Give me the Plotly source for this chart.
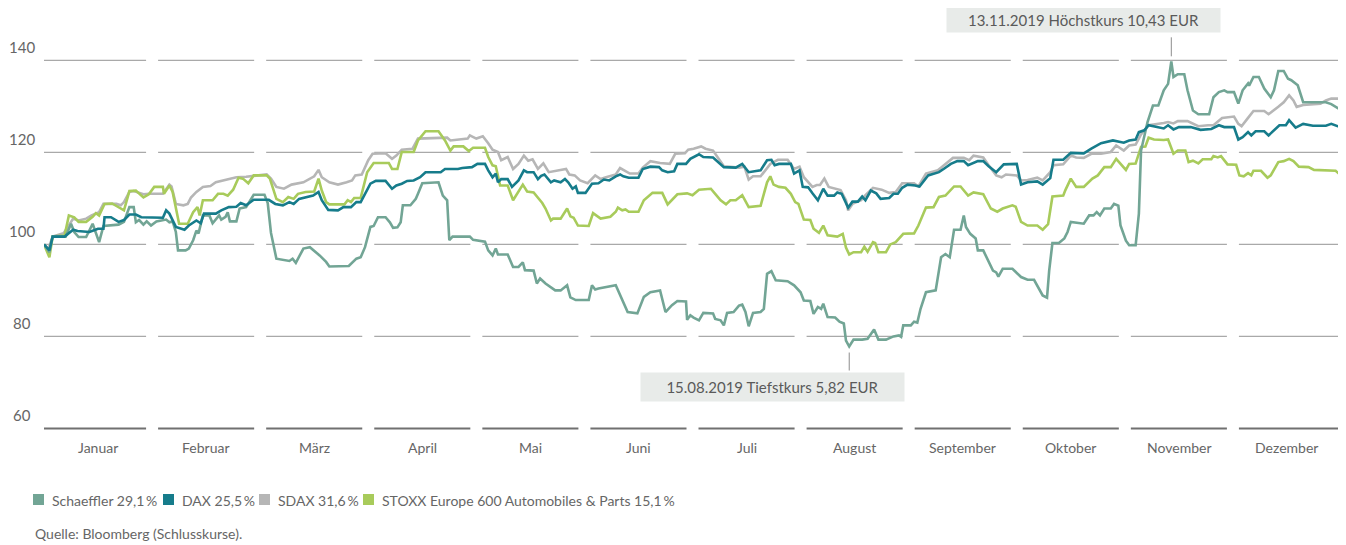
import plotly.graph_objects as go

# ---------------- data (index, 1 Jan 2019 = 100; time in months since 1 Jan) ----------------
months = ["Januar", "Februar", "März", "April", "Mai", "Juni", "Juli",
          "August", "September", "Oktober", "November", "Dezember"]
y_ticks = [60, 80, 100, 120, 140]

schaeffler_t = [0.00, 0.05, 0.08, 0.20, 0.25, 0.28, 0.32, 0.39, 0.45, 0.51, 0.55, 0.69, 0.74, 0.79, 0.83, 0.85, 0.88, 0.92, 0.95, 0.99,
                1.04, 1.13, 1.16, 1.19, 1.22, 1.24, 1.31, 1.34, 1.38, 1.41, 1.43, 1.47, 1.53, 1.56, 1.62, 1.64, 1.68, 1.70, 1.72, 1.78,
                1.81, 1.87, 1.94, 2.04, 2.07, 2.10, 2.15, 2.27, 2.30, 2.33, 2.40, 2.46, 2.55, 2.61, 2.64, 2.82, 2.89, 2.93, 2.97, 3.02,
                3.05, 3.09, 3.16, 3.20, 3.23, 3.27, 3.30, 3.32, 3.39, 3.44, 3.46, 3.50, 3.65, 3.69, 3.73, 3.75, 3.78, 3.94, 3.97, 4.08,
                4.11, 4.15, 4.18, 4.20, 4.29, 4.34, 4.39, 4.43, 4.45, 4.53, 4.56, 4.59, 4.64, 4.70, 4.73, 4.78, 4.84, 4.87, 4.92, 5.04,
                5.07, 5.10, 5.13, 5.29, 5.33, 5.40, 5.49, 5.55, 5.61, 5.70, 5.75, 5.81, 5.86, 5.94, 5.95, 5.98, 6.01, 6.06, 6.10, 6.19,
                6.21, 6.26, 6.29, 6.32, 6.38, 6.43, 6.46, 6.49, 6.52, 6.56, 6.63, 6.66, 6.69, 6.73, 6.77, 6.88, 6.94, 7.00, 7.03, 7.09,
                7.12, 7.16, 7.19, 7.21, 7.25, 7.32, 7.36, 7.40, 7.42, 7.45, 7.49, 7.57, 7.62, 7.68, 7.72, 7.79, 7.86, 7.91, 7.93, 7.95,
                8.02, 8.05, 8.08, 8.11, 8.16, 8.25, 8.30, 8.34, 8.38, 8.42, 8.48, 8.51, 8.53, 8.57, 8.62, 8.64, 8.69, 8.78, 8.81, 8.83,
                8.87, 8.96, 9.04, 9.10, 9.16, 9.20, 9.24, 9.28, 9.30, 9.33, 9.39, 9.44, 9.47, 9.50, 9.62, 9.67, 9.71, 9.74, 9.77, 9.81,
                9.87, 9.90, 9.94, 9.96, 10.01, 10.04, 10.10, 10.13, 10.15, 10.21, 10.26, 10.31, 10.36, 10.40, 10.43, 10.45, 10.49, 10.55, 10.58, 10.63,
                10.68, 10.78, 10.82, 10.87, 10.92, 10.95, 11.01, 11.05, 11.09, 11.14, 11.15, 11.19, 11.24, 11.29, 11.35, 11.38, 11.42, 11.47, 11.51, 11.54,
                11.60, 11.65, 11.86, 11.91, 11.97, 12.00]
schaeffler = [100.0, 98.3, 101.7, 101.7, 104.5, 102.7, 101.6, 101.6, 104.5, 100.5, 104.0, 104.3, 104.9, 108.1, 108.1, 104.8, 105.3, 104.3, 105.0, 104.1,
              105.0, 105.4, 104.8, 105.0, 102.7, 98.7, 98.7, 99.1, 100.9, 103.0, 102.4, 106.3, 106.3, 104.6, 106.3, 105.4, 106.0, 107.0, 105.0, 105.0,
              107.8, 108.1, 110.8, 110.8, 109.0, 102.5, 96.9, 96.4, 96.9, 96.0, 99.1, 99.4, 97.6, 96.2, 95.2, 95.3, 96.9, 97.2, 99.4, 103.8,
              104.0, 105.9, 105.9, 104.8, 103.6, 103.7, 104.8, 108.5, 108.5, 109.9, 111.0, 113.3, 113.5, 110.6, 109.6, 100.9, 101.7, 101.7, 101.0, 100.6,
              98.7, 97.6, 99.1, 97.8, 97.8, 95.1, 95.1, 96.1, 94.4, 94.3, 91.5, 92.6, 91.5, 90.4, 90.0, 90.0, 91.1, 88.5, 87.9, 87.9,
              91.1, 90.2, 90.4, 91.1, 88.9, 85.3, 85.0, 88.6, 89.6, 90.0, 85.3, 86.8, 87.7, 87.6, 83.6, 84.6, 84.1, 83.5, 85.1, 85.0,
              83.8, 83.5, 82.4, 85.1, 85.3, 86.7, 86.9, 85.3, 82.2, 85.1, 85.3, 86.0, 93.6, 94.2, 92.2, 92.0, 91.1, 89.6, 87.8, 87.7,
              84.9, 86.4, 86.0, 87.1, 84.2, 84.1, 83.2, 82.8, 79.1, 77.8, 79.3, 79.3, 79.5, 81.5, 79.3, 79.3, 80.0, 80.2, 79.9, 82.4,
              82.4, 83.2, 83.0, 86.0, 89.6, 90.0, 97.2, 97.9, 97.2, 103.2, 103.2, 106.3, 103.8, 102.3, 101.3, 98.7, 98.7, 94.3, 93.9, 93.0,
              94.7, 94.7, 92.9, 92.3, 92.3, 90.7, 88.9, 88.4, 94.3, 100.3, 100.3, 101.3, 102.7, 104.9, 104.5, 106.3, 106.3, 107.0, 106.3, 107.8,
              107.8, 108.8, 108.4, 104.1, 100.8, 99.8, 99.8, 106.7, 120.4, 126.6, 130.2, 130.2, 133.5, 134.9, 139.8, 136.4, 137.0, 137.0, 133.5, 129.1,
              128.3, 128.3, 132.0, 133.1, 133.5, 133.1, 133.1, 130.6, 133.5, 135.0, 134.5, 136.4, 136.4, 133.9, 132.0, 133.5, 137.7, 137.7, 136.0, 135.7,
              134.6, 130.9, 130.9, 130.5, 129.5, 129.2]

dax_t = [0.00, 0.05, 0.08, 0.19, 0.27, 0.31, 0.42, 0.50, 0.55, 0.56, 0.62, 0.69, 0.74, 0.79, 0.85, 0.90, 1.10, 1.13, 1.16, 1.22,
         1.30, 1.34, 1.41, 1.45, 1.48, 1.59, 1.64, 1.71, 1.78, 1.82, 1.87, 1.94, 2.08, 2.14, 2.21, 2.27, 2.31, 2.36, 2.49, 2.54,
         2.57, 2.63, 2.72, 2.77, 2.84, 2.89, 2.93, 2.98, 3.02, 3.07, 3.16, 3.22, 3.26, 3.31, 3.36, 3.42, 3.48, 3.53, 3.67, 3.71,
         3.83, 3.87, 3.96, 4.01, 4.08, 4.11, 4.15, 4.18, 4.20, 4.23, 4.29, 4.33, 4.39, 4.44, 4.47, 4.53, 4.57, 4.60, 4.63, 4.69,
         4.72, 4.78, 4.82, 4.85, 4.89, 4.92, 4.94, 5.01, 5.07, 5.13, 5.18, 5.23, 5.29, 5.33, 5.36, 5.41, 5.50, 5.54, 5.61, 5.69,
         5.72, 5.77, 5.83, 5.86, 5.94, 5.98, 6.06, 6.10, 6.19, 6.29, 6.40, 6.46, 6.52, 6.63, 6.69, 6.73, 6.76, 6.80, 6.91, 6.94,
         6.99, 7.02, 7.07, 7.11, 7.16, 7.21, 7.25, 7.31, 7.34, 7.38, 7.42, 7.44, 7.48, 7.53, 7.57, 7.60, 7.65, 7.70, 7.74, 7.82,
         7.86, 7.90, 7.94, 7.99, 8.06, 8.10, 8.18, 8.28, 8.33, 8.39, 8.45, 8.51, 8.55, 8.64, 8.69, 8.74, 8.81, 8.88, 9.00, 9.04,
         9.10, 9.19, 9.24, 9.31, 9.34, 9.43, 9.50, 9.62, 9.69, 9.78, 9.89, 9.99, 10.04, 10.10, 10.13, 10.18, 10.22, 10.36, 10.40, 10.45,
         10.50, 10.61, 10.70, 10.80, 10.87, 10.92, 11.01, 11.05, 11.09, 11.14, 11.17, 11.21, 11.29, 11.33, 11.43, 11.49, 11.52, 11.58, 11.65, 11.74,
         11.86, 11.91, 11.97, 12.00]
dax = [100.0, 98.7, 101.7, 101.7, 103.2, 102.9, 102.7, 103.4, 103.4, 105.9, 105.9, 104.9, 105.3, 106.5, 106.5, 105.9, 105.8, 107.4, 106.7, 103.8,
       103.2, 104.1, 105.2, 104.6, 106.7, 106.7, 107.4, 108.1, 108.2, 109.0, 108.5, 109.7, 109.7, 108.8, 108.5, 109.2, 108.8, 109.9, 110.6, 111.4,
       109.6, 107.5, 107.4, 108.1, 108.1, 109.2, 109.2, 111.4, 113.2, 113.8, 113.8, 112.1, 112.8, 113.2, 113.8, 113.9, 114.6, 115.7, 115.7, 116.4,
       116.4, 116.6, 116.8, 117.5, 117.5, 116.1, 114.6, 115.4, 113.5, 114.2, 114.2, 112.5, 113.9, 116.1, 115.7, 115.7, 114.2, 114.9, 115.2, 113.5,
       113.9, 113.5, 114.2, 113.5, 112.1, 112.6, 111.2, 111.2, 113.2, 113.3, 114.1, 113.9, 114.8, 115.2, 114.8, 114.5, 114.5, 116.4, 116.9, 116.8,
       116.1, 115.7, 115.9, 117.5, 117.5, 118.6, 119.6, 119.0, 118.9, 116.8, 116.7, 117.5, 115.7, 116.1, 118.3, 118.4, 117.2, 117.5, 117.5, 115.4,
       116.1, 112.5, 112.4, 111.1, 109.6, 112.1, 110.6, 110.6, 111.3, 111.0, 108.8, 108.0, 109.3, 109.3, 110.4, 109.6, 111.7, 111.1, 109.9, 110.1,
       111.0, 111.0, 112.3, 113.0, 112.8, 112.6, 115.0, 115.7, 116.5, 117.5, 118.1, 118.1, 117.2, 118.1, 118.1, 117.0, 115.7, 117.4, 117.5, 113.0,
       113.5, 113.7, 113.0, 114.4, 118.4, 118.4, 119.9, 119.8, 120.8, 122.0, 122.6, 122.1, 122.6, 122.8, 124.4, 124.8, 125.9, 125.2, 125.9, 125.0,
       125.5, 125.5, 124.9, 125.1, 125.9, 125.5, 125.5, 122.8, 123.3, 124.4, 123.7, 124.6, 124.6, 123.7, 125.9, 125.9, 127.0, 125.4, 126.2, 125.8,
       125.8, 126.2, 125.7, 125.7]

sdax_t = [0.00, 0.04, 0.08, 0.18, 0.22, 0.27, 0.32, 0.39, 0.44, 0.51, 0.55, 0.67, 0.71, 0.74, 0.79, 0.83, 0.92, 0.97, 1.10, 1.16,
          1.18, 1.22, 1.29, 1.33, 1.36, 1.41, 1.47, 1.54, 1.59, 1.65, 1.71, 1.78, 1.87, 1.94, 2.06, 2.10, 2.15, 2.22, 2.29, 2.40,
          2.50, 2.54, 2.57, 2.64, 2.72, 2.80, 2.85, 2.88, 2.94, 3.00, 3.04, 3.16, 3.22, 3.26, 3.31, 3.41, 3.46, 3.73, 3.76, 3.92,
          3.94, 4.00, 4.06, 4.11, 4.15, 4.20, 4.23, 4.29, 4.34, 4.39, 4.44, 4.48, 4.52, 4.57, 4.62, 4.67, 4.78, 4.83, 4.86, 4.91,
          4.96, 5.03, 5.10, 5.15, 5.20, 5.29, 5.33, 5.38, 5.42, 5.50, 5.54, 5.61, 5.70, 5.79, 5.84, 5.93, 5.96, 6.01, 6.08, 6.12,
          6.19, 6.29, 6.43, 6.48, 6.52, 6.56, 6.63, 6.72, 6.79, 6.88, 6.94, 6.99, 7.03, 7.11, 7.15, 7.18, 7.22, 7.26, 7.37, 7.42,
          7.44, 7.48, 7.56, 7.60, 7.67, 7.75, 7.82, 7.88, 7.94, 8.05, 8.09, 8.16, 8.27, 8.31, 8.41, 8.51, 8.56, 8.60, 8.69, 8.74,
          8.81, 8.86, 8.90, 9.00, 9.04, 9.10, 9.19, 9.24, 9.31, 9.34, 9.43, 9.50, 9.55, 9.62, 9.69, 9.78, 9.87, 9.92, 9.99, 10.04,
          10.10, 10.15, 10.22, 10.36, 10.40, 10.45, 10.49, 10.58, 10.63, 10.68, 10.77, 10.82, 10.90, 11.01, 11.05, 11.08, 11.14, 11.19, 11.29, 11.33,
          11.42, 11.47, 11.52, 11.56, 11.59, 11.65, 11.81, 11.86, 11.91, 12.00]
sdax = [100.0, 99.0, 101.7, 102.4, 103.8, 105.6, 105.2, 105.6, 106.3, 107.0, 108.8, 108.8, 108.5, 109.2, 111.4, 111.6, 110.9, 111.0, 111.0, 113.0,
        112.6, 108.8, 108.5, 108.8, 110.2, 111.4, 112.5, 112.7, 113.5, 113.8, 114.1, 114.6, 114.7, 114.9, 115.2, 114.3, 112.5, 112.1, 113.0, 113.5,
        114.8, 116.2, 114.6, 113.5, 113.0, 113.5, 113.9, 115.0, 115.2, 118.3, 119.7, 119.8, 118.6, 119.3, 120.6, 120.8, 123.0, 123.2, 122.6, 123.0,
        123.7, 123.0, 123.5, 122.0, 120.6, 120.1, 118.3, 119.0, 116.4, 117.5, 119.3, 118.2, 118.5, 116.4, 117.6, 115.7, 116.1, 116.4, 115.2, 115.0,
        113.9, 113.3, 115.0, 114.2, 114.6, 115.2, 116.6, 116.0, 115.4, 115.4, 116.7, 118.1, 117.7, 117.5, 119.7, 119.8, 120.6, 120.8, 121.3, 120.8,
        120.4, 117.0, 116.7, 116.9, 114.1, 114.8, 114.8, 117.5, 118.4, 118.4, 116.4, 116.9, 114.6, 112.5, 112.9, 112.9, 114.3, 112.5, 111.8, 109.6,
        107.4, 108.8, 109.6, 110.7, 112.3, 111.9, 111.2, 111.4, 113.3, 113.3, 112.6, 115.4, 116.1, 116.9, 118.8, 118.8, 118.3, 119.3, 118.9, 117.2,
        115.0, 114.6, 115.2, 115.0, 113.9, 114.0, 114.5, 113.9, 115.7, 117.2, 117.4, 119.3, 118.9, 118.8, 119.7, 119.7, 120.1, 121.5, 120.4, 121.5,
        121.7, 123.9, 125.9, 126.4, 126.6, 126.3, 126.8, 126.8, 126.3, 125.7, 125.9, 125.9, 127.5, 127.8, 126.2, 125.7, 127.5, 129.0, 129.0, 128.3,
        129.9, 130.9, 132.4, 131.3, 129.9, 130.3, 130.6, 131.3, 131.7, 131.7]

stoxx_t = [0.00, 0.05, 0.08, 0.19, 0.23, 0.28, 0.32, 0.39, 0.45, 0.48, 0.51, 0.56, 0.63, 0.69, 0.74, 0.79, 0.85, 0.92, 0.97, 1.02,
           1.10, 1.11, 1.16, 1.19, 1.24, 1.25, 1.33, 1.38, 1.42, 1.44, 1.47, 1.56, 1.61, 1.66, 1.70, 1.75, 1.80, 1.84, 1.89, 1.94,
           2.06, 2.09, 2.15, 2.21, 2.26, 2.31, 2.35, 2.42, 2.50, 2.54, 2.57, 2.61, 2.64, 2.78, 2.81, 2.84, 2.87, 2.93, 2.99, 3.05,
           3.19, 3.22, 3.27, 3.31, 3.42, 3.46, 3.53, 3.65, 3.71, 3.76, 3.79, 3.88, 3.93, 3.97, 4.08, 4.11, 4.15, 4.18, 4.22, 4.29,
           4.34, 4.43, 4.47, 4.53, 4.61, 4.64, 4.69, 4.71, 4.78, 4.84, 4.87, 4.90, 4.94, 5.04, 5.08, 5.15, 5.24, 5.29, 5.31, 5.35,
           5.38, 5.41, 5.50, 5.55, 5.63, 5.72, 5.77, 5.81, 5.86, 5.95, 6.00, 6.06, 6.17, 6.21, 6.26, 6.31, 6.35, 6.40, 6.46, 6.52,
           6.63, 6.69, 6.72, 6.75, 6.80, 6.86, 6.91, 6.95, 6.98, 7.03, 7.09, 7.12, 7.17, 7.21, 7.25, 7.34, 7.39, 7.42, 7.45, 7.49,
           7.56, 7.59, 7.62, 7.67, 7.69, 7.72, 7.79, 7.83, 7.88, 7.95, 8.05, 8.09, 8.16, 8.23, 8.28, 8.34, 8.42, 8.48, 8.55, 8.60,
           8.69, 8.76, 8.82, 8.87, 8.96, 8.99, 9.04, 9.10, 9.19, 9.24, 9.29, 9.33, 9.43, 9.45, 9.50, 9.55, 9.62, 9.70, 9.75, 9.81,
           9.87, 9.92, 9.96, 10.01, 10.04, 10.10, 10.15, 10.19, 10.22, 10.27, 10.36, 10.40, 10.45, 10.49, 10.56, 10.59, 10.63, 10.68, 10.72, 10.80,
           10.82, 10.86, 10.89, 10.95, 11.03, 11.06, 11.10, 11.14, 11.17, 11.19, 11.26, 11.32, 11.35, 11.42, 11.47, 11.52, 11.56, 11.61, 11.70, 11.75,
           11.95, 12.00]
stoxx = [100.0, 97.2, 101.7, 101.9, 106.3, 105.9, 104.9, 104.9, 106.0, 106.8, 106.3, 108.8, 108.9, 108.0, 107.4, 111.6, 111.7, 110.2, 110.9, 112.5,
         112.5, 111.0, 112.8, 111.4, 104.9, 104.5, 104.5, 107.0, 108.1, 106.3, 109.6, 109.6, 111.0, 111.0, 110.6, 111.9, 114.5, 114.3, 113.3, 115.0,
         115.0, 114.3, 109.9, 109.2, 110.3, 109.9, 111.0, 111.4, 111.5, 114.3, 111.7, 109.2, 108.7, 108.7, 109.6, 109.2, 110.1, 110.1, 115.7, 117.7,
         117.7, 116.4, 116.4, 120.1, 120.1, 122.6, 124.6, 124.6, 122.6, 120.4, 121.3, 121.3, 120.3, 121.0, 121.0, 119.0, 117.2, 117.0, 112.8, 112.8,
         109.6, 113.0, 111.5, 111.3, 109.0, 107.8, 105.2, 105.6, 105.6, 107.8, 106.1, 105.8, 104.1, 104.0, 106.8, 105.6, 106.0, 107.1, 108.0, 107.4,
         107.6, 107.1, 107.1, 109.6, 111.2, 111.2, 108.7, 109.7, 110.9, 111.1, 110.7, 111.9, 112.1, 111.0, 109.6, 108.7, 109.6, 109.6, 110.7, 108.1,
         108.4, 113.5, 114.8, 113.0, 112.5, 112.3, 111.0, 109.2, 108.8, 105.4, 105.3, 103.4, 102.5, 104.1, 102.0, 101.7, 102.3, 99.3, 97.8, 98.3,
         98.3, 99.5, 98.4, 100.5, 100.3, 98.3, 98.3, 100.0, 100.5, 102.3, 102.4, 104.1, 108.0, 108.1, 110.3, 110.6, 112.6, 112.6, 110.6, 111.3,
         110.9, 107.8, 107.1, 107.8, 108.5, 108.2, 104.9, 104.1, 104.1, 103.2, 104.4, 110.4, 110.6, 111.8, 114.3, 112.5, 112.5, 114.3, 115.0, 116.8,
         116.8, 118.6, 117.5, 116.2, 117.5, 117.6, 121.2, 121.3, 123.2, 122.8, 122.7, 122.8, 119.7, 120.4, 120.4, 117.9, 118.2, 117.6, 118.5, 118.5,
         119.2, 118.9, 119.2, 117.4, 117.3, 115.0, 114.8, 115.5, 115.0, 116.0, 116.0, 114.5, 115.0, 117.9, 118.1, 118.6, 118.1, 116.9, 116.8, 116.2,
         116.0, 115.0]

legend_names = ["Schaeffler", "DAX", "SDAX", "STOXX Europe 600 Automobiles & Parts"]
legend_perf = ["29,1", "25,5", "31,6", "15,1"]
high_text = "13.11.2019 Höchstkurs 10,43 EUR"
low_text = "15.08.2019 Tiefstkurs 5,82 EUR"
source_text = "Quelle: Bloomberg (Schlusskurse)."

# ---------------- styling ----------------
FONT = "Lato"
colors = {"Schaeffler": "#72a595", "DAX": "#167c8b",
          "SDAX": "#b6b6b6", "STOXX Europe 600 Automobiles & Parts": "#a8cb5b"}
series = {"Schaeffler": (schaeffler_t, schaeffler), "DAX": (dax_t, dax),
          "SDAX": (sdax_t, sdax), "STOXX Europe 600 Automobiles & Parts": (stoxx_t, stoxx)}
draw_order = ["SDAX", "STOXX Europe 600 Automobiles & Parts", "Schaeffler", "DAX"]

# the page body adds an 8px offset; size the figure so the plot lands where the reference has it
W, H = 1338, 537
ML, MR, MT, MB = 36, 5, 20, 112
PLOT_LEFT_PAGE = 44          # page x of plot's left edge (8px body offset + ML)
plot_h = H - MT - MB
px_per_unit = 4.6
y_lo = 59.0
y_hi = y_lo + plot_h / px_per_unit

fig = go.Figure()
for name in draw_order:
    t, v = series[name]
    fig.add_trace(go.Scatter(x=t, y=v, mode="lines", name=name,
                             line=dict(color=colors[name], width=2.6),
                             showlegend=False, hoverinfo="skip"))

shapes = []
annotations = []
gap = 6 / 108
for yv in y_ticks:
    for m in range(12):
        x0 = 0 if m == 0 else m + gap
        x1 = 12 if m == 11 else m + 1 - gap
        shapes.append(dict(type="line", xref="x", yref="y", x0=x0, x1=x1, y0=yv, y1=yv,
                           layer="below",
                           line=dict(color="#707070" if yv == 60 else "#a9a9a9",
                                     width=2 if yv == 60 else 1.3)))
    annotations.append(dict(text=str(yv), xref="paper", x=0, xanchor="center", xshift=-22,
                            yref="y", y=yv, yanchor="middle", yshift=13, showarrow=False,
                            font=dict(family=FONT, size=15, color="#666666")))

for m, name in enumerate(months):
    annotations.append(dict(text=name, xref="x", x=m + 0.5, yref="y", y=60, yshift=-19,
                            xanchor="center", yanchor="middle", showarrow=False,
                            font=dict(family=FONT, size=14, color="#666666")))

# high / low call-outs
i_hi = max(range(len(schaeffler)), key=lambda i: schaeffler[i])
i_lo = min(range(len(schaeffler)), key=lambda i: schaeffler[i])
box_font = dict(family=FONT, size=15, color="#5a5a5a")
annotations.append(dict(text=high_text, xref="x", x=schaeffler_t[i_hi], yref="y", y=schaeffler[i_hi],
                        xshift=-88, yshift=41, showarrow=False, bgcolor="#e8ebe9",
                        width=273, height=24, borderpad=0, font=box_font))
annotations.append(dict(text=low_text, xref="x", x=schaeffler_t[i_lo], yref="y", y=schaeffler[i_lo],
                        xshift=-77, yshift=-40, showarrow=False, bgcolor="#e8ebe9",
                        width=263, height=28, borderpad=0, font=box_font))
shapes.append(dict(type="line", xref="x", yref="y", x0=schaeffler_t[i_hi], x1=schaeffler_t[i_hi],
                   ysizemode="pixel", yanchor=schaeffler[i_hi], y0=5, y1=24,
                   line=dict(color="#8c8c8c", width=1)))
shapes.append(dict(type="line", xref="x", yref="y", x0=schaeffler_t[i_lo], x1=schaeffler_t[i_lo],
                   ysizemode="pixel", yanchor=schaeffler[i_lo], y0=-6, y1=-24,
                   line=dict(color="#8c8c8c", width=1)))

# custom legend (square swatches), positions in page pixels
sq_left = [33, 163, 259, 363]
for name, perf, sx in zip(legend_names, legend_perf, sq_left):
    shapes.append(dict(type="rect", xref="paper", yref="paper", xsizemode="pixel", ysizemode="pixel",
                       xanchor=0, yanchor=0, x0=sx - PLOT_LEFT_PAGE, x1=sx - PLOT_LEFT_PAGE + 11,
                       y0=-72, y1=-61, line=dict(width=0), fillcolor=colors[name]))
    annotations.append(dict(text=f"{name} {perf}\u2009%", xref="paper", x=0,
                            xshift=sx - PLOT_LEFT_PAGE + 17, xanchor="left",
                            yref="paper", y=0, yshift=-67, yanchor="middle",
                            showarrow=False, font=dict(family=FONT, size=14, color="#666666")))

annotations.append(dict(text=source_text, xref="paper", x=0, xshift=33 - PLOT_LEFT_PAGE, xanchor="left",
                        yref="paper", y=0, yshift=-100, yanchor="middle", showarrow=False,
                        font=dict(family=FONT, size=14, color="#666666")))

fig.update_layout(
    width=W, height=H,
    margin=dict(l=ML, r=MR, t=MT, b=MB, pad=0),
    paper_bgcolor="white", plot_bgcolor="white",
    xaxis=dict(range=[0, 12], showgrid=False, zeroline=False, showticklabels=False,
               showline=False, ticks=""),
    yaxis=dict(range=[y_lo, y_hi], showgrid=False, zeroline=False, showticklabels=False,
               showline=False, ticks=""),
    shapes=shapes, annotations=annotations,
    font=dict(family=FONT, color="#666666"),
)

fig.write_html("out.html")
